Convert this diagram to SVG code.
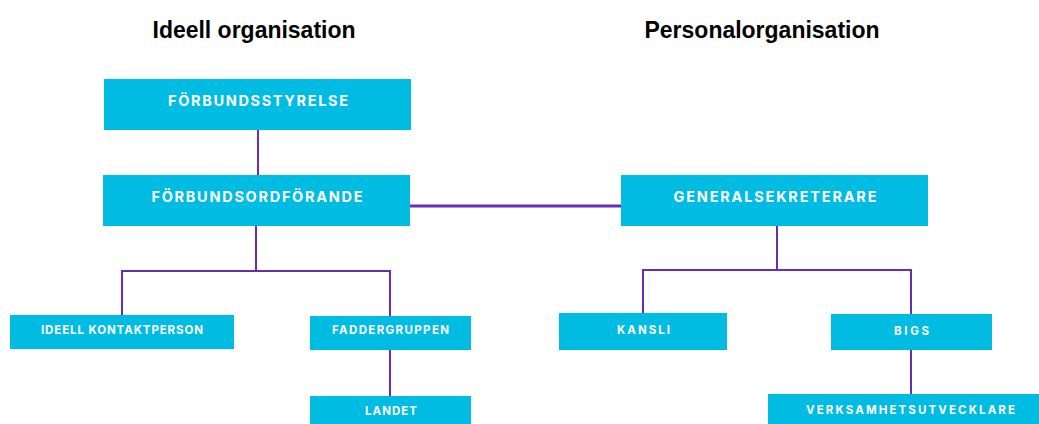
<svg xmlns="http://www.w3.org/2000/svg" width="1039" height="424" viewBox="0 0 1039 424">
<style>
.box{fill:#00BCE3;}
.t{font-family:Inter,"Liberation Sans",sans-serif;font-weight:700;fill:#fff;text-anchor:middle;}
.big{font-size:14.5px;}
.small{font-size:11.5px;}
.title{font-family:"Liberation Sans",Arial,sans-serif;font-weight:700;font-size:23px;fill:#000;text-anchor:middle;}
.c{stroke:#6A2DB0;stroke-width:2;fill:none;}
</style>
<rect width="1039" height="424" fill="#fff"/>
<text class="title" x="254" y="38" textLength="203" lengthAdjust="spacingAndGlyphs">Ideell organisation</text>
<text class="title" x="762" y="38" textLength="235" lengthAdjust="spacingAndGlyphs">Personalorganisation</text>
<g id="connectors">
<path class="c" d="M258 130V175"/>
<path class="c" d="M256 226V271M122 271H390M122 270V315M390 270V316M390 350V396"/>
<path class="c" d="M410 206H621" style="stroke-width:3"/>
<path class="c" d="M777 226V270M643 270H911M643 269V313M911 269V314M911 350V394"/>
</g>
<g id="forbundsstyrelse"><rect class="box" x="104" y="79" width="307" height="51"/><text class="t big" x="258" y="105.5" textLength="180" lengthAdjust="spacing">FÖRBUNDSSTYRELSE</text></g>
<g id="forbundsordforande"><rect class="box" x="103" y="175" width="307" height="51"/><text class="t big" x="257" y="201.5" textLength="211" lengthAdjust="spacing">FÖRBUNDSORDFÖRANDE</text></g>
<g id="generalsekreterare"><rect class="box" x="621" y="175" width="307" height="51"/><text class="t big" x="775" y="201.5" textLength="203" lengthAdjust="spacing">GENERALSEKRETERARE</text></g>
<g id="ideell-kontaktperson"><rect class="box" x="10" y="315" width="224" height="34"/><text class="t small" x="122" y="333.5" textLength="162" lengthAdjust="spacing">IDEELL KONTAKTPERSON</text></g>
<g id="faddergruppen"><rect class="box" x="310" y="316" width="161" height="34"/><text class="t small" x="390.5" y="334" textLength="117" lengthAdjust="spacing">FADDERGRUPPEN</text></g>
<g id="landet"><rect class="box" x="310" y="396" width="161" height="34"/><text class="t small" x="391" y="414.5" textLength="52" lengthAdjust="spacing">LANDET</text></g>
<g id="kansli"><rect class="box" x="559" y="313" width="168" height="37"/><text class="t small" x="643.5" y="333.5" textLength="53" lengthAdjust="spacing">KANSLI</text></g>
<g id="bigs"><rect class="box" x="831" y="314" width="161" height="36"/><text class="t small" x="911.5" y="334.5" textLength="35" lengthAdjust="spacing">BIGS</text></g>
<g id="verksamhetsutvecklare"><rect class="box" x="768" y="394" width="275" height="34"/><text class="t small" x="910.5" y="413.5" textLength="209" lengthAdjust="spacing">VERKSAMHETSUTVECKLARE</text></g>
</svg>
